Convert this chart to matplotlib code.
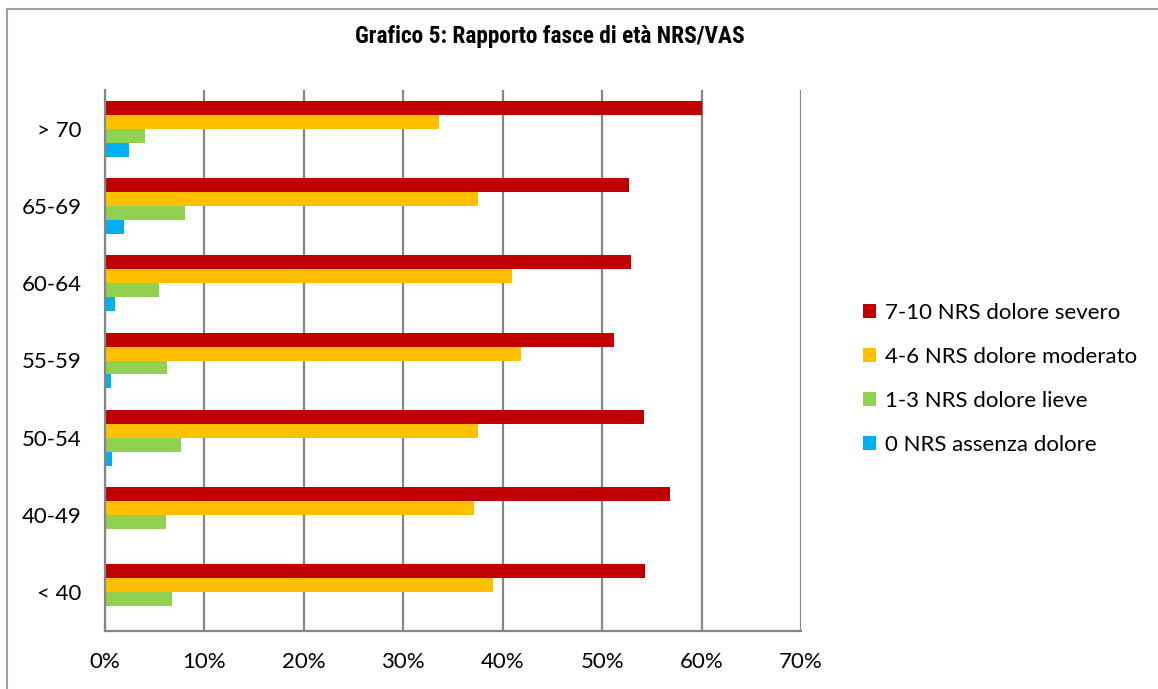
import numpy as np
import matplotlib
matplotlib.use('Agg')
import matplotlib.pyplot as plt
from matplotlib.lines import Line2D

# dati (percentuali)
fasce = ['< 40', '40-49', '50-54', '55-59', '60-64', '65-69', '> 70']
severo = [54.3, 56.8, 54.2, 51.2, 52.9, 52.7, 60.0]
moderato = [39.0, 37.1, 37.5, 41.8, 40.9, 37.5, 33.6]
lieve = [6.7, 6.1, 7.6, 6.2, 5.4, 8.0, 4.0]
assenza = [0.0, 0.0, 0.7, 0.6, 1.0, 1.9, 2.45]

serie = [
    (severo, '7-10 NRS dolore severo', '#C00000'),
    (moderato, '4-6 NRS dolore moderato', '#FFC000'),
    (lieve, '1-3 NRS dolore lieve', '#92D050'),
    (assenza, '0 NRS assenza dolore', '#00B0F0'),
]

plt.rcParams['font.family'] = ['Lato', 'DejaVu Sans']

fig = plt.figure(figsize=(11.58, 6.89), dpi=100)
ax = fig.add_axes([105 / 1158, 1 - 631 / 689, 696 / 1158, 541 / 689])

y = np.arange(len(fasce))
h = 0.181
offsets = [1.5, 0.5, -0.5, -1.5]
for (vals, lab, col), off in zip(serie, offsets):
    ax.barh(y + off * h, vals, height=h, color=col, label=lab, zorder=3)

ax.set_xlim(0, 70)
ax.set_ylim(-0.5, len(fasce) - 0.5)
ax.set_xticks(np.arange(0, 71, 10))
ax.set_xticklabels([f'{v}%' for v in range(0, 71, 10)])
ax.set_yticks(y)
ax.set_yticklabels(fasce)
ax.tick_params(axis='both', length=0, labelsize=16, colors='black')
ax.tick_params(axis='x', pad=15)
ax.tick_params(axis='y', pad=17)
ax.grid(axis='x', color='#868686', linewidth=1.6, zorder=0)
for s in ['top', 'right']:
    ax.spines[s].set_visible(False)
for s in ['left', 'bottom']:
    ax.spines[s].set_color('#868686')
    ax.spines[s].set_linewidth(1.6)
    ax.spines[s].set_zorder(4)

fig.text(550 / 1158, 1 - 37 / 689, 'Grafico 5: Rapporto fasce di età NRS/VAS',
         ha='center', va='center', fontsize=16.8, fontweight='bold', fontstretch='condensed',
         family=['Liberation Sans Narrow', 'Roboto Condensed', 'DejaVu Sans Condensed', 'Roboto', 'DejaVu Sans'])

fig.legend(loc='upper left', bbox_to_anchor=(843 / 1158, 1 - 283 / 689),
           frameon=False, fontsize=16, handlelength=0.6, handleheight=0.6,
           handletextpad=0.4, labelspacing=1.08)

# bordo del grafico
fig.add_artist(Line2D([7 / 1158, 1], [1 - 9 / 689, 1 - 9 / 689], color='#A0A0A0', linewidth=1.5))
fig.add_artist(Line2D([7 / 1158, 7 / 1158], [0, 1 - 9 / 689], color='#A0A0A0', linewidth=1.5))

fig.savefig('out.png', dpi=100)
